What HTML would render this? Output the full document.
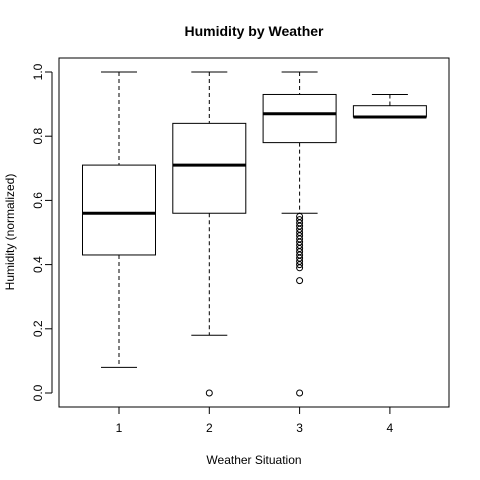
<!DOCTYPE html>
<html><head><meta charset="utf-8"><style>body{margin:0;background:#fff}svg{display:block;font-family:"Liberation Sans",Arial,sans-serif}</style></head>
<body>
<svg id="chart" width="480" height="480" viewBox="0 0 480 480">
<text x="254" y="36" text-anchor="middle" font-size="14" font-weight="bold">Humidity by Weather</text>
<text x="254" y="464" text-anchor="middle" font-size="12">Weather Situation</text>
<text x="14" y="232" text-anchor="middle" font-size="12" transform="rotate(-90 14 232)">Humidity (normalized)</text>
<rect x="59" y="58" width="390" height="349" fill="none" stroke="#000"/>
<g id="marks"></g>
</svg>
<script>
const categories = ["1","2","3","4"];
const whiskerLow = [0.08, 0.18, 0.56, 0.86];
const q1 = [0.43, 0.56, 0.78, 0.86];
const medians = [0.56, 0.71, 0.87, 0.86];
const q3 = [0.71, 0.84, 0.93, 0.895];
const whiskerHigh = [1.0, 1.0, 1.0, 0.93];
const outliers2 = [0.0];
const outliers3 = [0.55,0.54,0.53,0.52,0.51,0.50,0.49,0.48,0.47,0.46,0.45,0.44,0.43,0.42,0.41,0.40,0.39,0.35,0.0];
const outliersByCat = [[], outliers2, outliers3, []];
const yTicks = [0.0, 0.2, 0.4, 0.6, 0.8, 1.0];

const NS = "http://www.w3.org/2000/svg";
const svg = document.getElementById("chart");
const g = document.getElementById("marks");
const y = v => 393 - v * 321;
const x = i => 119 + i * 90.3;
function mk(tag, attrs, parent) {
  const e = document.createElementNS(NS, tag);
  for (const k in attrs) e.setAttribute(k, attrs[k]);
  (parent || g).appendChild(e);
  return e;
}
// y axis
const yAxis = mk("g", {});


mk("line", {x1: 52, x2: 52, y1: y(0), y2: y(1), stroke: "#000"}, yAxis);
yTicks.forEach(t => {
  mk("line", {x1: 45, x2: 52, y1: y(t), y2: y(t), stroke: "#000"}, yAxis);
  const tx = mk("text", {x: 42, y: y(t), "font-size": 12, "text-anchor": "middle", transform: `rotate(-90 42 ${y(t)})`}, yAxis);
  
  
  tx.textContent = t.toFixed(1);
});
// x axis
const xAxis = mk("g", {});


mk("line", {x1: x(0), x2: x(3), y1: 407, y2: 407, stroke: "#000"}, xAxis);
categories.forEach((c, i) => {
  mk("line", {x1: x(i), x2: x(i), y1: 407, y2: 414, stroke: "#000"}, xAxis);
  const tx = mk("text", {x: x(i), y: 432, "font-size": 12, "text-anchor": "middle"}, xAxis);
  
  
  tx.textContent = c;
});
// boxes
const hw = 36.5, cw = 18;
categories.forEach((c, i) => {
  const bg = mk("g", {});
  
  
  const cx = x(i);
  mk("line", {x1: cx, x2: cx, y1: y(whiskerHigh[i]), y2: y(q3[i]), stroke: "#000", "stroke-dasharray": "4,3"}, bg);
  mk("line", {x1: cx, x2: cx, y1: y(q1[i]), y2: y(whiskerLow[i]), stroke: "#000", "stroke-dasharray": "4,3"}, bg);
  mk("line", {x1: cx - cw, x2: cx + cw, y1: y(whiskerHigh[i]), y2: y(whiskerHigh[i]), stroke: "#000"}, bg);
  mk("line", {x1: cx - cw, x2: cx + cw, y1: y(whiskerLow[i]), y2: y(whiskerLow[i]), stroke: "#000"}, bg);
  mk("rect", {x: cx - hw, y: y(q3[i]), width: 2 * hw, height: Math.max(0.5, y(q1[i]) - y(q3[i])), fill: "none", stroke: "#000"}, bg);
  mk("line", {x1: cx - hw, x2: cx + hw, y1: y(medians[i]), y2: y(medians[i]), stroke: "#000", "stroke-width": 3}, bg);
  outliersByCat[i].forEach(v => {
    const p = mk("circle", {cx: cx, cy: y(v), r: 3, fill: "none", stroke: "#000"}, bg);
    
    
  });
});
</script>
</body></html>
